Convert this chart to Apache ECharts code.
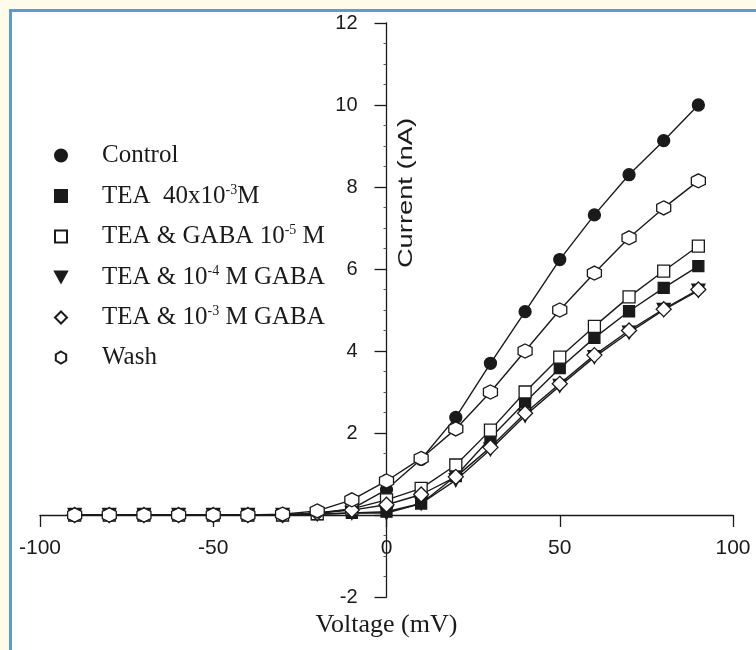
<!DOCTYPE html>
<html>
<head>
<meta charset="utf-8">
<script src="https://cdn.jsdelivr.net/npm/echarts@6/dist/echarts.min.js"></script>
<style>
    html, body { margin: 0; padding: 0; background: #fffbea; }
    #ivChart { width: 756px; height: 650px; }
</style>
</head>
<body>
<div id="ivChart"></div>
<script>
// 电压 (mV)
var voltage = [-90, -80, -70, -60, -50, -40, -30, -20, -10, 0, 10, 20, 30, 40, 50, 60, 70, 80, 90];

// 电流 (nA)
var control = [0, 0, 0, 0, 0, 0, 0, 0.05, 0.15, 0.62, 1.36, 2.38, 3.7, 4.96, 6.23, 7.32, 8.3, 9.13, 10.0];
var tea40   = [0, 0, 0, 0, 0, 0, 0, 0.02, 0.05, 0.08, 0.28, 0.95, 1.88, 2.75, 3.58, 4.32, 4.97, 5.54, 6.07];
var gaba5   = [0, 0, 0, 0, 0, 0, 0, 0.03, 0.15, 0.37, 0.65, 1.22, 2.07, 3.0, 3.85, 4.6, 5.32, 5.95, 6.56];
var gaba4   = [0, 0, 0, 0, 0, 0, 0, 0.02, 0.05, 0.05, 0.28, 0.85, 1.6, 2.42, 3.15, 3.85, 4.45, 5.0, 5.47];
var gaba3   = [0, 0, 0, 0, 0, 0, 0, 0.05, 0.12, 0.25, 0.5, 0.93, 1.65, 2.48, 3.2, 3.9, 4.5, 5.02, 5.5];
var wash    = [0, 0, 0, 0, 0, 0, 0.02, 0.1, 0.37, 0.83, 1.38, 2.1, 3.0, 4.0, 5.0, 5.9, 6.76, 7.49, 8.15];

var legendName = ['Control', 'TEA 40', 'GABA 5', 'GABA 4', 'GABA 3', 'Wash'];
var legendText = {
    'Control': '{n|Control}',
    'TEA 40': '{n|TEA  40x10}{s|-3}{n|M}',
    'GABA 5': '{n|TEA & GABA 10}{s|-5}{n| M}',
    'GABA 4': '{n|TEA & 10}{s|-4}{n| M GABA}',
    'GABA 3': '{n|TEA & 10}{s|-3}{n| M GABA}',
    'Wash': '{n|Wash}'
};

var hexagon = 'path://M0,-10L8.66,-5L8.66,5L0,10L-8.66,5L-8.66,-5Z';
var triDown = 'path://M0,0L10,0L5,9Z';
var ink = '#1a1a1a';
var serif = '"Liberation Serif", "Times New Roman", serif';
var sans = '"Liberation Sans", Arial, sans-serif';

function pairs(values) {
    var out = [];
    for (var i = 0; i < voltage.length; i++) {
        out.push([voltage[i], values[i]]);
    }
    return out;
}

function makeSeries(name, values, symbol, size, fill, rotate) {
    return {
        name: name,
        type: 'line',
        data: pairs(values),
        symbol: symbol,
        symbolSize: size,
        symbolRotate: rotate || 0,
        showAllSymbol: true,
        lineStyle: { color: ink, width: 1.4 },
        itemStyle: { color: fill, borderColor: ink, borderWidth: 1.3 }
    };
}

var myChart = echarts.init(document.getElementById('ivChart'));

// 轴线放在零点: 用 offset 把整条轴(线、刻度、标签)移进来
var gridLeft = 40, gridRight = 23, gridTop = 23, gridBottom = 53;
var plotW = 756 - gridLeft - gridRight;
var plotH = 650 - gridTop - gridBottom;
var yAxisShift = plotW * (0 - (-100)) / 200;
var xAxisShift = plotH * (0 - (-2)) / 14;

var option = {
    backgroundColor: '#fffbea',
    animation: false,
    graphic: [
        { type: 'rect', z: -10, silent: true, shape: { x: 9, y: 9, width: 760, height: 660 }, style: { fill: '#ffffff' } },
        { type: 'rect', z: -9, silent: true, shape: { x: 9, y: 9, width: 760, height: 3 }, style: { fill: '#5b9bd5' } },
        { type: 'rect', z: -9, silent: true, shape: { x: 9, y: 9, width: 3, height: 660 }, style: { fill: '#5b9bd5' } },
        {
            type: 'text', x: 406, y: 193, rotation: Math.PI / 2, scaleX: 1.3, silent: true,
            style: { text: 'Current (nA)', fill: ink, font: '21px ' + sans, align: 'center', verticalAlign: 'middle' }
        }
    ],
    grid: { left: gridLeft, right: gridRight, top: gridTop, bottom: gridBottom, outerBoundsMode: 'none', containLabel: false },
    legend: {
        orient: 'vertical',
        left: 49,
        top: 138,
        itemWidth: 12,
        itemHeight: 12,
        itemGap: 15,
        data: [
            { name: 'Control', icon: 'circle' },
            { name: 'TEA 40', icon: 'rect' },
            { name: 'GABA 5', icon: 'rect' },
            { name: 'GABA 4', icon: triDown },
            { name: 'GABA 3', icon: 'diamond' },
            { name: 'Wash', icon: hexagon }
        ],
        formatter: function (name) {
            return legendText[name];
        },
        textStyle: {
            padding: [0, 0, 0, 30],
            rich: {
                n: { fontFamily: serif, fontSize: 25, color: ink, lineHeight: 25 },
                s: { fontFamily: serif, fontSize: 14, color: ink, padding: [0, 0, 12, 0] }
            }
        }
    },
    xAxis: {
        type: 'value',
        position: 'bottom',
        offset: -xAxisShift,
        min: -100,
        max: 100,
        interval: 50,
        name: 'Voltage (mV)',
        nameLocation: 'middle',
        nameGap: 97,
        nameTextStyle: { fontFamily: serif, fontSize: 26, color: ink },
        splitLine: { show: false },
        axisLine: { onZero: false, lineStyle: { color: ink, width: 1.3 } },
        axisTick: { show: true, inside: false, length: 12, lineStyle: { color: ink, width: 1.3 } },
        axisLabel: { fontFamily: sans, fontSize: 21, color: ink, margin: 23 }
    },
    yAxis: {
        type: 'value',
        position: 'left',
        offset: -yAxisShift,
        min: -2,
        max: 12,
        interval: 2,
        splitLine: { show: false },
        axisLine: { onZero: false, lineStyle: { color: ink, width: 1.3 } },
        axisTick: { show: true, inside: false, length: 12, lineStyle: { color: ink, width: 1.3 } },
        minorTick: { show: true, splitNumber: 4, length: 3, lineStyle: { color: '#555', width: 1 } },
        axisLabel: {
            fontFamily: sans, fontSize: 20, color: ink, margin: 29,
            formatter: function (v) {
                return v === 0 ? '' : String(v);
            }
        }
    },
    series: [
        makeSeries('Control', control, 'circle', 12, ink),
        makeSeries('TEA 40', tea40, 'rect', 11, ink),
        makeSeries('GABA 5', gaba5, 'rect', 12, '#ffffff'),
        makeSeries('GABA 4', gaba4, 'triangle', 13, ink, 180),
        makeSeries('GABA 3', gaba3, 'diamond', 15, '#ffffff'),
        makeSeries('Wash', wash, hexagon, 14, '#ffffff')
    ]
};

myChart.setOption(option);
</script>
</body>
</html>
